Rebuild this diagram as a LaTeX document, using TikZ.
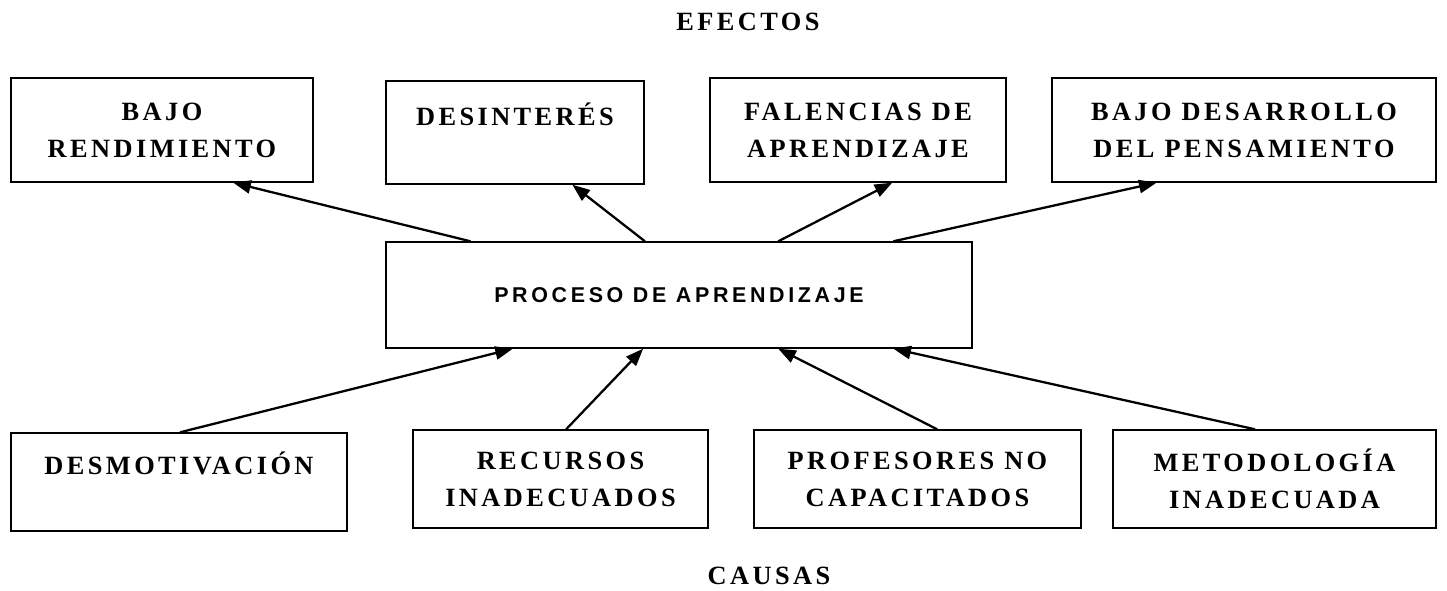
\documentclass[tikz,border=0pt]{standalone}
\usepackage{fontspec}
\setmainfont{Liberation Serif}
\setsansfont{Liberation Sans}
\newfontfamily\boxfont{Liberation Serif}[LetterSpace=13]
\newfontfamily\corefont{Liberation Sans}[LetterSpace=17]
\usepackage{tikz}
\usetikzlibrary{arrows.meta,calc}

\begin{document}
\begin{tikzpicture}[
  x=0.02cm, y=-0.02cm,
  box/.style={draw, line width=0.8pt, inner sep=0pt, align=center, font=\fontsize{15}{21}\boxfont\bfseries},
  core/.style={draw, line width=0.8pt, inner sep=0pt, align=center, font=\fontsize{12.2}{14}\corefont\bfseries},
  heading/.style={font=\fontsize{15}{18}\boxfont\bfseries},
  arrow/.style={-{Triangle[length=10pt, width=7.5pt]}, line width=1.3pt}
]
\useasboundingbox (0,0) rectangle (1447,591);

\node[heading] (efectos) at (748,22) {EFECTOS};
\node[heading] (causas) at (769,576) {CAUSAS};

% efectos
\node[box, minimum width=6.04cm, minimum height=2.08cm] (e1) at (162,130) {BAJO\\RENDIMIENTO};
\node[box, minimum width=5.16cm, minimum height=2.06cm] (e2) at (515,132.5) {DESINTERÉS\\\phantom{X}};
\node[box, minimum width=5.92cm, minimum height=2.08cm] (e3) at (858,130) {FALENCIAS DE\\APRENDIZAJE};
\node[box, minimum width=7.68cm, minimum height=2.08cm] (e4) at (1244,130) {BAJO DESARROLLO\\DEL PENSAMIENTO};

\node[core, minimum width=11.72cm, minimum height=2.12cm] (proc) at (679,295) {PROCESO DE APRENDIZAJE};

% causas
\node[box, minimum width=6.72cm, minimum height=1.96cm] (c1) at (179,482) {DESMOTIVACIÓN\\\phantom{X}};
\node[box, minimum width=5.9cm, minimum height=1.96cm] (c2) at (560.5,479) {RECURSOS\\INADECUADOS};
\node[box, minimum width=6.54cm, minimum height=1.96cm] (c3) at (917.5,479) {PROFESORES NO\\CAPACITADOS};
\node[box, minimum width=6.46cm, minimum height=1.96cm] (c4) at (1274.5,479) {METODOLOGÍA\\INADECUADA};

\draw[arrow] ($(proc.north west)!0.145!(proc.north east)$) -- ($(e1.south west)!0.735!(e1.south east)$);
\draw[arrow] ($(proc.north west)!0.442!(proc.north east)$) -- ($(e2.south west)!0.721!(e2.south east)$);
\draw[arrow] ($(proc.north west)!0.669!(proc.north east)$) -- ($(e3.south west)!0.615!(e3.south east)$);
\draw[arrow] ($(proc.north west)!0.865!(proc.north east)$) -- ($(e4.south west)!0.273!(e4.south east)$);

\draw[arrow] ($(c1.north west)!0.503!(c1.north east)$) -- ($(proc.south west)!0.217!(proc.south east)$);
\draw[arrow] ($(c2.north west)!0.519!(c2.north east)$) -- ($(proc.south west)!0.439!(proc.south east)$);
\draw[arrow] ($(c3.north west)!0.56!(c3.north east)$) -- ($(proc.south west)!0.669!(proc.south east)$);
\draw[arrow] ($(c4.north west)!0.44!(c4.north east)$) -- ($(proc.south west)!0.865!(proc.south east)$);
\end{tikzpicture}
\end{document}
